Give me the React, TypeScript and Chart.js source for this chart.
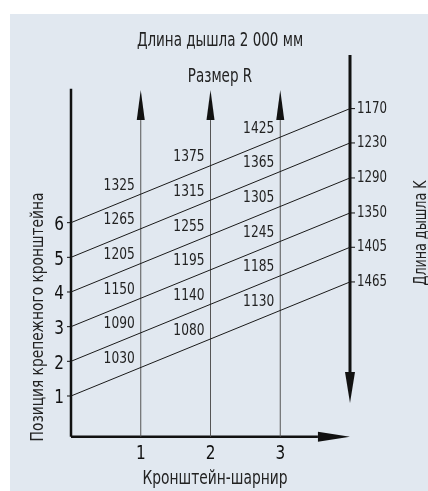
import React, { useEffect, useRef } from 'react';
import { Chart, registerables } from 'chart.js';

Chart.register(...registerables);

// ---- data ----
const positions = [1, 2, 3, 4, 5, 6];
const rightEnds = [4.29, 5.29, 6.28, 7.29, 8.3, 9.29];
const rightLabels = ['1465', '1405', '1350', '1290', '1230', '1170'];
const hingeX = [1, 2, 3];
const sizeAt1 = ['1030', '1090', '1150', '1205', '1265', '1325'];
const sizeAt2 = ['1080', '1140', '1195', '1255', '1315', '1375'];
const sizeAt3 = ['1130', '1185', '1245', '1305', '1365', '1425'];
const sizeLabels = [sizeAt1, sizeAt2, sizeAt3];
const yTickLabels = ['1', '2', '3', '4', '5', '6'];
const xTickLabels = ['1', '2', '3'];
const titleTop = 'Длина дышла 2 000 мм';
const titleR = 'Размер R';
const titleLeft = 'Позиция крепежного кронштейна';
const titleRight = 'Длина дышла K';
const titleBottom = 'Кронштейн-шарнир';

const X_MIN = 0;
const X_MAX = 4;
const Y_MIN = -0.183;
const Y_MAX = 11.01;
const AXIS_Y = -0.175;
const LEFT_TOP = 9.86;
const HINGE_TIP = 9.83;
const HINGE_BASE = 8.96;
const RIGHT_TOP = 10.84;
const RIGHT_BASE = 1.69;
const RIGHT_TIP = 0.8;
const BOTTOM_BASE = 3.54;

const FONT = '"Liberation Sans Narrow", "DejaVu Sans Condensed", "Roboto Condensed", sans-serif';

// draw horizontally-condensed text
function cText(
  ctx: CanvasRenderingContext2D,
  s: string,
  x: number,
  y: number,
  sx: number,
  align: CanvasTextAlign,
  rot = 0
) {
  ctx.save();
  ctx.translate(x, y);
  if (rot) ctx.rotate(rot);
  ctx.scale(sx, 1);
  ctx.textAlign = align;
  ctx.fillText(s, 0, 0);
  ctx.restore();
}

const drawPlugin = {
  id: 'nomogram',
  beforeDraw(chart: any) {
    const { ctx, width, height } = chart;
    ctx.save();
    ctx.fillStyle = '#ffffff';
    ctx.fillRect(0, 0, width, height);
    ctx.fillStyle = '#e1e8f0';
    ctx.fillRect(10, 14, width - 10, height - 14);
    ctx.restore();
  },
  afterDatasetsDraw(chart: any) {
    const { ctx } = chart;
    const xs = chart.scales.x;
    const ys = chart.scales.y;
    const px = (v: number) => xs.getPixelForValue(v);
    const py = (v: number) => ys.getPixelForValue(v);
    ctx.save();
    ctx.fillStyle = '#111';
    // hinge arrowheads
    hingeX.forEach((h) => {
      const x = px(h);
      ctx.beginPath();
      ctx.moveTo(x, py(HINGE_TIP));
      ctx.lineTo(x + 4, py(HINGE_BASE));
      ctx.lineTo(x - 4, py(HINGE_BASE));
      ctx.closePath();
      ctx.fill();
    });
    // right axis arrowhead (down)
    {
      const x = px(X_MAX);
      ctx.beginPath();
      ctx.moveTo(x, py(RIGHT_TIP));
      ctx.lineTo(x + 5, py(RIGHT_BASE));
      ctx.lineTo(x - 5, py(RIGHT_BASE));
      ctx.closePath();
      ctx.fill();
    }
    // bottom axis arrowhead (right)
    {
      const y = py(AXIS_Y);
      ctx.beginPath();
      ctx.moveTo(px(X_MAX), y);
      ctx.lineTo(px(BOTTOM_BASE), y - 5);
      ctx.lineTo(px(BOTTOM_BASE), y + 5);
      ctx.closePath();
      ctx.fill();
    }
    // left tick marks and labels
    ctx.strokeStyle = '#111';
    ctx.lineWidth = 1;
    ctx.fillStyle = '#111';
    ctx.font = `20px ${FONT}`;
    ctx.textBaseline = 'middle';
    positions.forEach((p, i) => {
      const y = py(p);
      ctx.beginPath();
      ctx.moveTo(px(0) - 4, y);
      ctx.lineTo(px(0), y);
      ctx.stroke();
      cText(ctx, yTickLabels[i], px(0) - 12, y + 2, 0.85, 'center');
    });
    // bottom tick labels
    hingeX.forEach((h, i) => {
      cText(ctx, xTickLabels[i], px(h), py(AXIS_Y) + 17, 0.85, 'center');
    });
    // right tick marks and labels
    ctx.font = `16px ${FONT}`;
    ctx.fillStyle = '#222';
    rightEnds.forEach((v, i) => {
      const y = py(v);
      ctx.beginPath();
      ctx.moveTo(px(X_MAX), y);
      ctx.lineTo(px(X_MAX) + 5, y);
      ctx.stroke();
      cText(ctx, rightLabels[i], px(X_MAX) + 7, y, 0.82, 'left');
    });
    // size labels at hinge lines
    hingeX.forEach((h, j) => {
      positions.forEach((p, i) => {
        const yv = p + ((rightEnds[i] - p) * h) / X_MAX;
        cText(ctx, sizeLabels[j][i], px(h) - 6, py(yv) - 8.5, 0.85, 'right');
      });
    });
    // titles
    ctx.fillStyle = '#222';
    ctx.font = `19px ${FONT}`;
    cText(ctx, titleTop, 220, 41, 0.79, 'center');
    cText(ctx, titleR, 220, 77, 0.79, 'center');
    cText(ctx, titleBottom, 215, 479, 0.81, 'center');
    ctx.font = `18px ${FONT}`;
    cText(ctx, titleLeft, 38, 317, 0.85, 'center', -Math.PI / 2);
    ctx.font = `17px ${FONT}`;
    cText(ctx, titleRight, 422, 233, 0.83, 'center', -Math.PI / 2);
    ctx.restore();
  },
};

export default function App() {
  const ref = useRef<HTMLCanvasElement | null>(null);
  useEffect(() => {
    if (!ref.current) return;
    const line = (pts: { x: number; y: number }[], color: string, w: number) => ({
      type: 'line' as const,
      data: pts,
      borderColor: color,
      borderWidth: w,
      pointRadius: 0,
      fill: false,
      tension: 0,
      clip: false as any,
    });
    const datasets: any[] = [];
    positions.forEach((p, i) => {
      datasets.push(line([{ x: X_MIN, y: p }, { x: X_MAX, y: rightEnds[i] }], '#1a1a1a', 1));
    });
    hingeX.forEach((h) => {
      datasets.push(line([{ x: h, y: AXIS_Y }, { x: h, y: HINGE_BASE }], '#555555', 1));
    });
    datasets.push(line([{ x: X_MIN, y: AXIS_Y }, { x: X_MIN, y: LEFT_TOP }], '#111111', 2.5));
    datasets.push(line([{ x: X_MIN, y: AXIS_Y }, { x: BOTTOM_BASE, y: AXIS_Y }], '#111111', 2.5));
    datasets.push(line([{ x: X_MAX, y: RIGHT_TOP }, { x: X_MAX, y: RIGHT_BASE }], '#111111', 3));

    const chart = new Chart(ref.current, {
      type: 'scatter',
      data: { datasets },
      options: {
        animation: false,
        responsive: false,
        maintainAspectRatio: false,
        devicePixelRatio: 1,
        layout: { padding: { left: 71, right: 78, top: 49, bottom: 54 } },
        plugins: { legend: { display: false }, tooltip: { enabled: false } },
        scales: {
          x: { type: 'linear', min: X_MIN, max: X_MAX, display: false },
          y: { type: 'linear', min: Y_MIN, max: Y_MAX, display: false },
        },
        events: [],
      },
      plugins: [drawPlugin],
    });
    return () => chart.destroy();
  }, []);
  return (
    <div style={{ position: 'fixed', left: 0, top: 0, width: 428, height: 491 }}>
      <canvas ref={ref} width={428} height={491} style={{ display: 'block', width: 428, height: 491 }} />
    </div>
  );
}
